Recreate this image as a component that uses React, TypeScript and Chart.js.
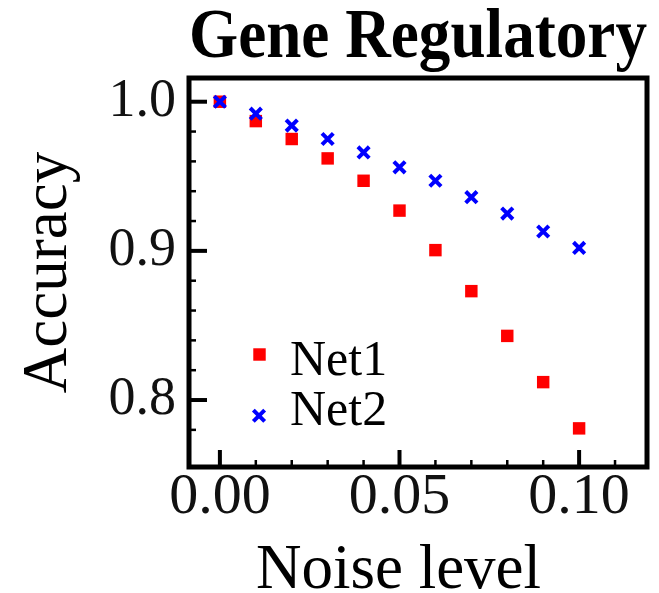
import React, { useEffect, useRef } from 'react';
import { Chart, registerables } from 'chart.js';

Chart.register(...registerables);

const FONT = '"Liberation Serif", "Times New Roman", serif';

const noiseLevels = [0, 0.01, 0.02, 0.03, 0.04, 0.05, 0.06, 0.07, 0.08, 0.09, 0.1];
const net1Accuracy = [1.0, 0.987, 0.975, 0.962, 0.947, 0.927, 0.9005, 0.873, 0.843, 0.812, 0.781];
const net2Accuracy = [1.0, 0.992, 0.984, 0.975, 0.966, 0.956, 0.947, 0.936, 0.925, 0.913, 0.902];

const xTicks = [0, 0.05, 0.1];
const yTicks = [0.8, 0.9, 1.0];
const xMinorTicks = [0.01, 0.02, 0.03, 0.04, 0.06, 0.07, 0.08, 0.09, 0.11];
const yMinorTicks = [0.78, 0.82, 0.84, 0.86, 0.88, 0.92, 0.94, 0.96, 0.98];

const seriesLabels = ['Net1', 'Net2'];
const titleText = 'Gene Regulatory';
const xTitle = 'Noise level';
const yTitle = 'Accuracy';

const decorPlugin = {
  id: 'decor',
  afterDraw(chart: any) {
    const { ctx, chartArea: a, scales } = chart;
    const xs = scales.x;
    const ys = scales.y;
    ctx.save();
    ctx.strokeStyle = '#000';
    ctx.lineCap = 'butt';
    const yTick = (v: number, len: number, w: number) => {
      const y = ys.getPixelForValue(v);
      ctx.lineWidth = w;
      ctx.beginPath();
      ctx.moveTo(a.left, y);
      ctx.lineTo(a.left + len, y);
      ctx.stroke();
    };
    const xTick = (v: number, len: number, w: number) => {
      const x = xs.getPixelForValue(v);
      ctx.lineWidth = w;
      ctx.beginPath();
      ctx.moveTo(x, a.bottom);
      ctx.lineTo(x, a.bottom - len);
      ctx.stroke();
    };
    yTicks.forEach((v) => yTick(v, 18, 4));
    yMinorTicks.forEach((v) => yTick(v, 7, 2.5));
    xTicks.forEach((v) => xTick(v, 17, 4));
    xMinorTicks.forEach((v) => xTick(v, 7, 2.5));
    ctx.lineWidth = 5;
    ctx.strokeRect(a.left, a.top, a.right - a.left, a.bottom - a.top);

    ctx.fillStyle = '#000';
    ctx.font = `63px ${FONT}`;
    ctx.textAlign = 'center';
    ctx.textBaseline = 'alphabetic';
    ctx.fillText(xTitle, a.left + 209.5, 588);

    const ds = chart.data.datasets;
    const rows = [
      { mx: a.left + 70.5, my: a.top + 276.5, tb: a.top + 297 },
      { mx: a.left + 70, my: a.top + 337.7, tb: a.top + 347 },
    ];
    ds.forEach((d: any, i: number) => {
      const r = rows[i];
      if (!r) return;
      if (d.pointStyle === 'rect') {
        const s = d.pointRadius * Math.SQRT1_2;
        ctx.fillStyle = d.pointBackgroundColor;
        ctx.fillRect(r.mx - s, r.my - s, 2 * s, 2 * s);
      } else {
        const o = d.pointRadius * Math.SQRT1_2;
        ctx.strokeStyle = d.pointBorderColor;
        ctx.lineWidth = d.pointBorderWidth;
        ctx.beginPath();
        ctx.moveTo(r.mx - o, r.my - o);
        ctx.lineTo(r.mx + o, r.my + o);
        ctx.moveTo(r.mx - o, r.my + o);
        ctx.lineTo(r.mx + o, r.my - o);
        ctx.stroke();
      }
      ctx.fillStyle = '#000';
      ctx.font = `50px ${FONT}`;
      ctx.textAlign = 'left';
      ctx.textBaseline = 'alphabetic';
      ctx.fillText(d.label, a.left + 101, r.tb);
    });
    ctx.restore();
  },
};

export default function App() {
  const ref = useRef<HTMLCanvasElement | null>(null);
  useEffect(() => {
    if (!ref.current) return;
    const chart = new Chart(ref.current, {
      type: 'scatter',
      data: {
        datasets: [
          {
            label: seriesLabels[0],
            data: noiseLevels.map((x, i) => ({ x, y: net1Accuracy[i] })),
            pointStyle: 'rect',
            pointRadius: 8.8,
            pointBackgroundColor: '#ff0000',
            pointBorderColor: '#ff0000',
            pointBorderWidth: 0,
            showLine: false,
            order: 2,
          } as any,
          {
            label: seriesLabels[1],
            data: noiseLevels.map((x, i) => ({ x, y: net2Accuracy[i] })),
            pointStyle: 'crossRot',
            pointRadius: 8,
            pointBackgroundColor: '#0000ff',
            pointBorderColor: '#0000ff',
            pointBorderWidth: 4,
            showLine: false,
            order: 1,
          } as any,
        ],
      },
      options: {
        responsive: false,
        animation: false,
        events: [],
        layout: { padding: { left: 0, right: 12, top: 0, bottom: 0 } },
        plugins: {
          legend: { display: false },
          tooltip: { enabled: false },
          title: {
            display: true,
            text: titleText,
            fullSize: false,
            color: '#000',
            font: { family: FONT, size: 70, weight: 'bold', lineHeight: 1 },
            padding: { top: 4, bottom: 4 },
          } as any,
        },
        scales: {
          x: {
            type: 'linear',
            min: -0.0086,
            max: 0.1189,
            afterFit: (s: any) => {
              s.height = 126;
            },
            afterBuildTicks: (s: any) => {
              s.ticks = xTicks.map((v) => ({ value: v }));
            },
            grid: { display: false, drawTicks: false },
            border: { display: false },
            ticks: {
              font: { family: FONT, size: 58, lineHeight: 1 },
              color: '#111',
              padding: 2,
              maxRotation: 0,
              autoSkip: false,
              callback: (v: any) => Number(v).toFixed(2),
            },
          },
          y: {
            type: 'linear',
            min: 0.7551,
            max: 1.0159,
            afterFit: (s: any) => {
              s.width = 189;
            },
            afterBuildTicks: (s: any) => {
              s.ticks = yTicks.map((v) => ({ value: v }));
            },
            grid: { display: false, drawTicks: false },
            border: { display: false },
            ticks: {
              font: { family: FONT, size: 54, lineHeight: 1 },
              color: '#111',
              padding: 13,
              autoSkip: false,
              callback: (v: any) => Number(v).toFixed(1),
            },
            title: {
              display: true,
              text: yTitle,
              color: '#000',
              font: { family: FONT, size: 63, lineHeight: 1 },
              padding: { top: 17.5, bottom: 0 },
            },
          },
        },
      },
      plugins: [decorPlugin],
    } as any);
    return () => chart.destroy();
  }, []);
  return (
    <div style={{ position: 'absolute', left: 0, top: 0, width: 659, height: 593, background: '#fff' }}>
      <canvas ref={ref} width={659} height={593} style={{ display: 'block' }} />
    </div>
  );
}
